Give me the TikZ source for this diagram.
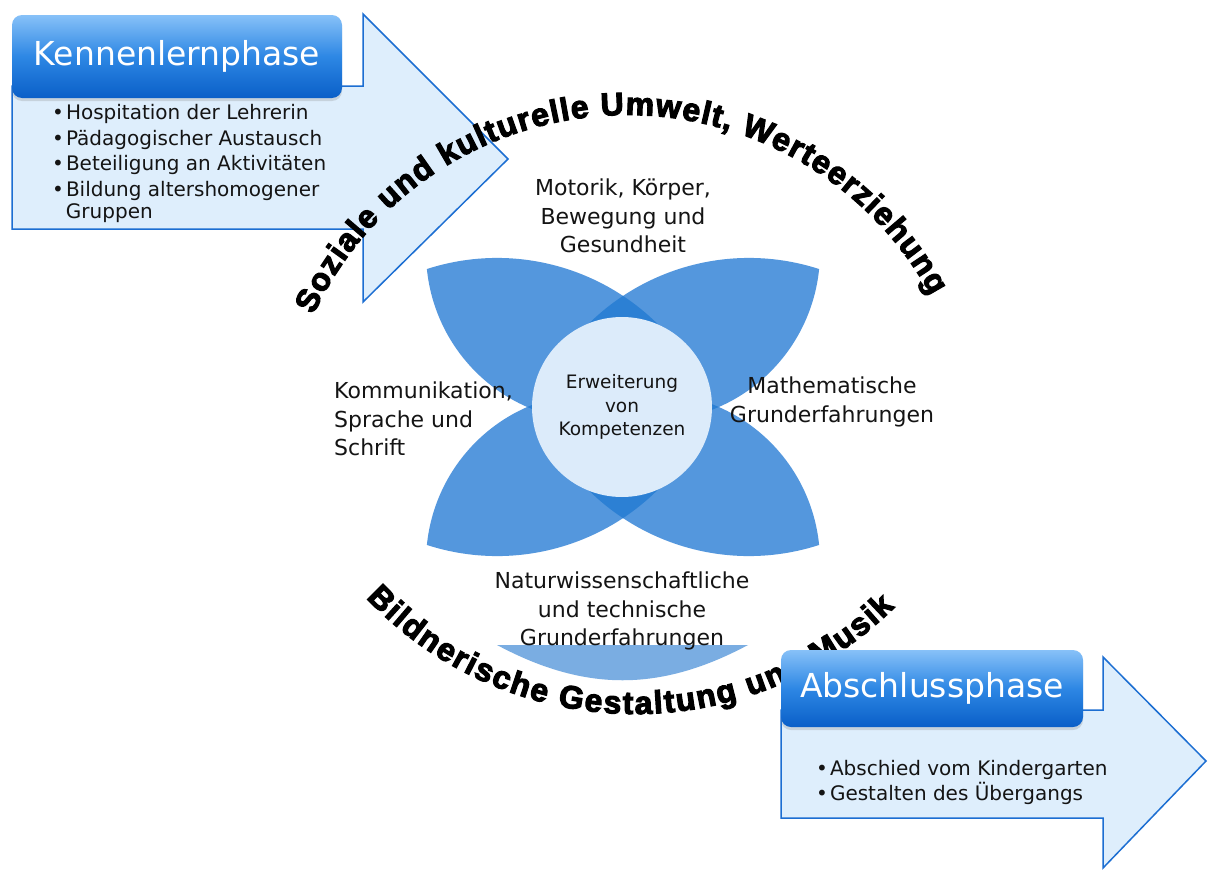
\documentclass[tikz,border=0pt]{standalone}
\usepackage{fontspec}
\setmainfont{DejaVu Sans}
\newfontfamily\arcfont{Liberation Sans}[FakeBold=3.5]
\usetikzlibrary{decorations.text,shadows}
\definecolor{arrowfill}{RGB}{222,238,252}
\definecolor{arrowline}{RGB}{28,110,210}
\definecolor{headtop}{RGB}{135,193,248}
\definecolor{headmid}{RGB}{45,135,228}
\definecolor{headbot}{RGB}{10,95,200}
\definecolor{petalc}{RGB}{84,151,221}
\definecolor{overlapc}{RGB}{44,128,212}
\definecolor{corec}{RGB}{220,235,250}
\definecolor{lensc}{RGB}{122,173,226}
\definecolor{txt}{RGB}{20,20,20}
\begin{document}
\begin{tikzpicture}[x=1pt,y=1pt,
  arrowbody/.style={fill=arrowfill,draw=arrowline,line width=1.5pt,line join=miter},
  header/.style={rounded corners=10pt,top color=headtop,bottom color=headbot,middle color=headmid,
    text=white,font=\fontsize{33}{36}\selectfont,inner sep=0pt,
    drop shadow={opacity=0.25,shadow xshift=0pt,shadow yshift=-3pt}},
  bullets/.style={font=\fontsize{20}{25.5}\selectfont,text=txt,inner sep=0pt,anchor=north west},
  lab/.style={font=\fontsize{22}{28.5}\selectfont,text=txt,inner sep=0pt},
  arctext/.style={decorate,decoration={text along path,text align={fit to path},text={#1}}}]
\useasboundingbox (0,0) rectangle (1208,-870);
\fill[white] (0,0) rectangle (1208,-870);

% Kennenlernphase arrow
\path[arrowbody] (12,-86) -- (363,-86) -- (363,-14) -- (508,-159) -- (363,-302) -- (363,-229) -- (12,-229) -- cycle;
\node[header,minimum width=330,minimum height=83] (khead) at (177,-56.5) {Kennenlernphase};
\node[bullets] (kbul) at (52,-101.5) {\begin{tabular}{@{}l@{\hspace{2pt}}l@{}}
•&Hospitation der Lehrerin\\
•&Pädagogischer Austausch\\
•&Beteiligung an Aktivitäten\\
•&Bildung altershomogener\\[-3.5pt]
&Gruppen\end{tabular}};

% flower
\def\petalpath{(-196,138) arc[start angle=107.9,end angle=26.6,radius=228] arc[start angle=308.8,end angle=185.8,radius=169] -- cycle}
\begin{scope}[shift={(623,-407)}]
  \fill[petalc] \petalpath;
  \fill[petalc,xscale=-1] \petalpath;
  \fill[petalc,yscale=-1] \petalpath;
  \fill[petalc,scale=-1] \petalpath;
  \begin{scope}
    \clip \petalpath;
    \fill[overlapc,xscale=-1] \petalpath;
    \fill[overlapc,yscale=-1] \petalpath;
  \end{scope}
  \begin{scope}
    \clip[scale=-1] \petalpath;
    \fill[overlapc,xscale=-1] \petalpath;
    \fill[overlapc,yscale=-1] \petalpath;
  \end{scope}
\end{scope}
\node[circle,fill=corec,minimum size=180,inner sep=0pt,align=center,text=txt,
  font=\fontsize{18.5}{23.5}\selectfont] (core) at (622,-407) {Erweiterung\\von\\Kompetenzen};

% light lens at the bottom
\fill[lensc] (497,-645) -- (748,-645) .. controls (660,-692) and (585,-692) .. (497,-645) -- cycle;

% area labels
\node[lab,align=center] (mot) at (623,-216) {Motorik, Körper,\\Bewegung und\\Gesundheit};
\node[lab,align=left,anchor=west] (kom) at (334,-419) {Kommunikation,\\Sprache und\\Schrift};
\node[lab,align=center] (mat) at (832,-402) {Mathematische\\Grunderfahrungen};
\node[lab,align=center] (nat) at (622,-611) {Naturwissenschaftliche\\und technische\\Grunderfahrungen};

% arc texts
\coordinate (topstart) at (313.4,-314.8);
\path[arctext={|\arcfont\bfseries\fontsize{32}{34}\selectfont|Soziale und kulturelle Umwelt, Werteerziehung}]
  (topstart) arc[start angle=155,end angle=28.5,radius=346];
\coordinate (botstart) at (366.1,-597.9);
\path[arctext={|\arcfont\bfseries\fontsize{32}{34}\selectfont|Bildnerische Gestaltung und Musik}]
  (botstart) arc[start angle=223.3,end angle=314.7,radius=369.5];

% Abschlussphase arrow
\path[arrowbody] (781,-710) -- (1103,-710) -- (1103,-657) -- (1206,-761) -- (1103,-868) -- (1103,-818) -- (781,-818) -- cycle;
\node[header,minimum width=302,minimum height=77] (ahead) at (932,-688.5) {Abschlussphase};
\node[bullets] (abul) at (816,-757) {\begin{tabular}{@{}l@{\hspace{2pt}}l@{}}
•&Abschied vom Kindergarten\\
•&Gestalten des Übergangs\end{tabular}};
\end{tikzpicture}
\end{document}
